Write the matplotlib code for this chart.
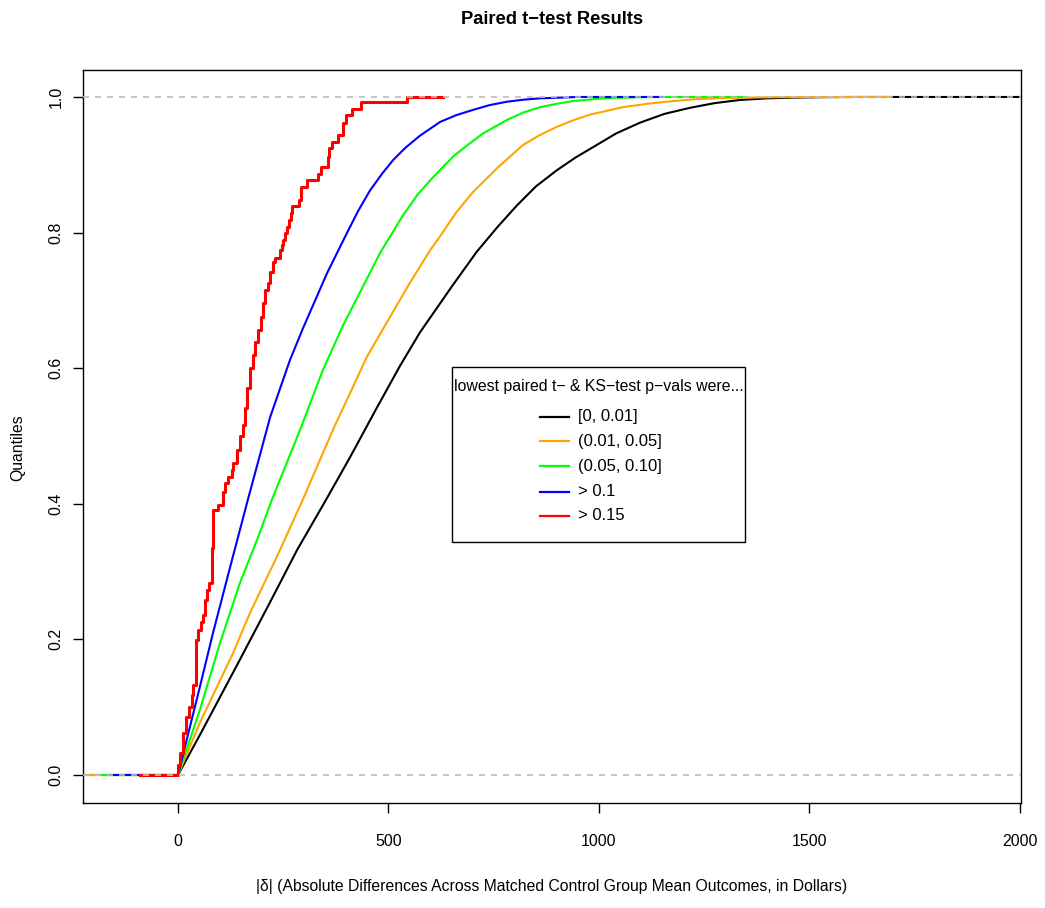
import matplotlib
matplotlib.use("Agg")
import matplotlib.pyplot as plt
from matplotlib.lines import Line2D
from matplotlib.patches import Rectangle

plt.rcParams['font.family'] = ['Liberation Sans', 'DejaVu Sans']

# ---- data ----
black_x = [0, 52, 147, 218, 283, 349, 409, 470, 527, 575, 622, 651, 710, 760, 805, 850, 900, 945, 986, 1040, 1097, 1155, 1216, 1275, 1335, 1400, 1454, 1530, 1600]
black_y = [0, 0.059, 0.170, 0.254, 0.332, 0.403, 0.469, 0.539, 0.603, 0.653, 0.695, 0.721, 0.772, 0.809, 0.840, 0.868, 0.892, 0.911, 0.926, 0.946, 0.962, 0.975, 0.984, 0.991, 0.9956, 0.998, 0.999, 0.9997, 1.0]

orange_x = [0, 52, 131, 171, 235, 295, 368, 449, 504, 551, 599, 622, 660, 701, 758, 819, 860, 900, 940, 979, 1057, 1115, 1176, 1235, 1295, 1450]
orange_y = [0, 0.077, 0.180, 0.239, 0.322, 0.404, 0.509, 0.617, 0.676, 0.726, 0.774, 0.794, 0.829, 0.860, 0.895, 0.929, 0.944, 0.956, 0.966, 0.974, 0.985, 0.990, 0.994, 0.997, 0.9985, 1.0]

green_x = [0, 52, 100, 147, 188, 223, 290, 344, 392, 439, 480, 534, 568, 599, 622, 655, 694, 724, 781, 820, 860, 900, 938, 1019, 1120]
green_y = [0, 0.096, 0.195, 0.283, 0.347, 0.406, 0.509, 0.597, 0.663, 0.720, 0.770, 0.825, 0.855, 0.877, 0.892, 0.913, 0.932, 0.946, 0.966, 0.977, 0.985, 0.990, 0.994, 0.9985, 1.0]

blue_x = [0, 52, 83, 124, 166, 219, 266, 297, 354, 401, 428, 456, 485, 511, 540, 575, 622, 660, 701, 740, 781, 820, 860, 950]
blue_y = [0, 0.130, 0.209, 0.307, 0.406, 0.528, 0.612, 0.659, 0.740, 0.799, 0.832, 0.862, 0.887, 0.907, 0.925, 0.943, 0.963, 0.973, 0.981, 0.988, 0.993, 0.996, 0.998, 1.0]

red_x = [0, 4.8, 11.9, 19, 26, 33, 35.6, 42.8, 47.5, 54.6,
         59.4, 64, 69, 73.6, 80.8, 83, 95, 107, 112, 119,
         128, 131, 140, 147, 154, 159, 164, 171, 178, 183,
         190, 197, 202, 207, 214, 219, 226, 230, 242, 247,
         249, 254, 259, 264, 268, 271, 287, 292, 306, 333,
         340, 356, 359, 366, 380, 392, 399, 413, 435, 544]
red_y = [0.015, 0.032, 0.062, 0.086, 0.100, 0.118, 0.133, 0.199, 0.214, 0.226,
         0.236, 0.258, 0.273, 0.283, 0.335, 0.391, 0.398, 0.417, 0.431, 0.440,
         0.450, 0.460, 0.479, 0.500, 0.516, 0.541, 0.571, 0.600, 0.619, 0.639,
         0.656, 0.676, 0.696, 0.715, 0.726, 0.742, 0.757, 0.763, 0.774, 0.782,
         0.789, 0.799, 0.808, 0.819, 0.829, 0.839, 0.848, 0.867, 0.877, 0.886,
         0.897, 0.911, 0.925, 0.934, 0.944, 0.962, 0.973, 0.982, 0.992, 1.0]

# horizontal tail extents (left start, right end) of each ECDF line
tails = {
    'black': (-260, 2100),
    'orange': (-221, 1690),
    'green': (-185, 1350),
    'blue': (-162, 1150),
    'red': (-90, 629),
}

labels = ['[0, 0.01]', '(0.01, 0.05]', '(0.05, 0.10]', '> 0.1', '> 0.15']
colors = ['black', '#ffa500', '#00ff00', '#0000ff', '#ff0000']
x_ticks = [0, 500, 1000, 1500, 2000]
y_ticks = [0.0, 0.2, 0.4, 0.6, 0.8, 1.0]

# ---- figure ----
W, H = 1045, 908
fig = plt.figure(figsize=(W / 100, H / 100), dpi=100)
ax = fig.add_axes([83 / W, 1 - 803 / H, (1021 - 83) / W, (803 - 70) / H])


def fpx(x, y):
    return x / W, 1 - y / H


series = [('black', black_x, black_y), ('orange', orange_x, orange_y),
          ('green', green_x, green_y), ('blue', blue_x, blue_y)]
for (name, xs, ys), col in zip(series, colors[:4]):
    lo, hi = tails[name]
    xx = [lo] + list(xs) + [hi]
    yy = [0] + list(ys) + [1.0]
    ax.plot(xx, yy, color=col, lw=1.5)

lo, hi = tails['red']
rx = [lo] + red_x + [hi]
ry = [0] + red_y + [1.0]
ax.plot(rx, ry, color=colors[4], lw=2.2, drawstyle='steps-post')

for yv in (0, 1):
    ax.axhline(yv, color='#bebebe', lw=1.2, ls=(0, (3.6, 3.6)), zorder=5)

ax.set_xlim(-225.6, 2002.4)
ax.set_ylim(-0.0413, 1.0398)
ax.set_xticks(x_ticks)
ax.set_xticklabels([str(v) for v in x_ticks])
ax.set_yticks(y_ticks)
ax.set_yticklabels([f'{v:.1f}' for v in y_ticks], rotation=90, va='center')
ax.tick_params(direction='out', length=7, width=1, labelsize=11.5)
ax.tick_params(axis='x', pad=15)
ax.tick_params(axis='y', pad=7)
for s in ax.spines.values():
    s.set_linewidth(1)

fig.text(*fpx(552, 19), 'Paired t\u2212test Results', ha='center', va='center',
         fontsize=13.2, fontweight='bold')
fig.text(*fpx(552, 887),
         '|\u03b4| (Absolute Differences Across Matched Control Group Mean Outcomes, in Dollars)',
         ha='center', va='center', fontsize=11.3)
fig.text(*fpx(18, 448), 'Quantiles', ha='center', va='center', rotation=90, fontsize=11.3)

# ---- legend box (R style) ----
bx0, by0, bx1, by1 = 452, 367, 745, 542
fig.add_artist(Rectangle(fpx(bx0, by1), (bx1 - bx0) / W, (by1 - by0) / H,
                         transform=fig.transFigure, fill=True, facecolor='white',
                         edgecolor='black', lw=1, zorder=10))
fig.text(*fpx(598.5, 386), 'lowest paired t\u2212 & KS\u2212test p\u2212vals were...',
         ha='center', va='center', fontsize=11.4, zorder=11)
row_y = [417, 441.5, 466.5, 491.5, 516]
for yv, col, lab in zip(row_y, colors, labels):
    x0, y0 = fpx(540, yv)
    x1, _ = fpx(569, yv)
    fig.add_artist(Line2D([x0, x1], [y0, y0], transform=fig.transFigure,
                          color=col, lw=1.6, zorder=11))
    fig.text(*fpx(578, yv), lab, ha='left', va='center', fontsize=12, zorder=11)

fig.savefig('out.png', dpi=100)
